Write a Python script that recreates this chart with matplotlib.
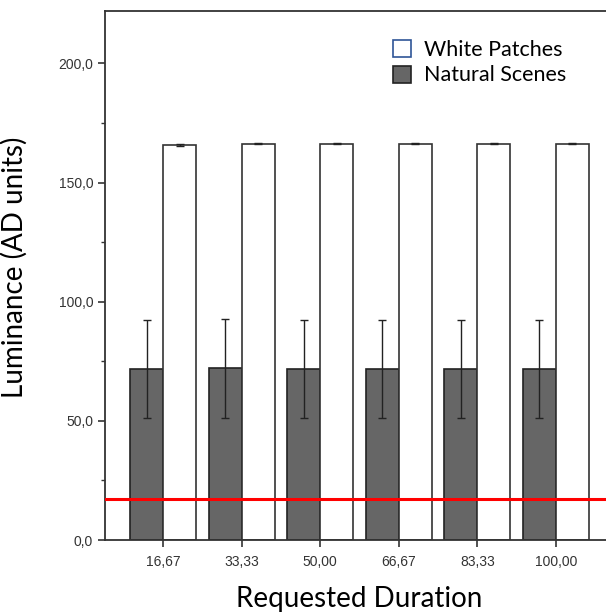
import numpy as np
import matplotlib
matplotlib.use('Agg')
import matplotlib.pyplot as plt
from matplotlib.ticker import MultipleLocator
from matplotlib.patches import Patch

durations = ['16,67', '33,33', '50,00', '66,67', '83,33', '100,00']
natural_mean = [71.8, 72.0, 71.9, 71.9, 71.8, 71.8]
natural_err = [20.6, 20.7, 20.6, 20.6, 20.6, 20.6]
white_mean = [165.8, 166.3, 166.3, 166.3, 166.3, 166.3]
white_err = [0.4, 0.3, 0.3, 0.3, 0.3, 0.3]
threshold = 17.2

fig = plt.figure(figsize=(6.06, 6.14), dpi=100)
ax = fig.add_axes([105/606, 74/614, 509/606, 529/614])

x = np.arange(len(durations))
w = 0.42
ax.bar(x - w/2, natural_mean, width=w, color='#666666', edgecolor='#222222', linewidth=1.2,
       yerr=natural_err, error_kw=dict(ecolor='#222222', elinewidth=1, capsize=3, capthick=1))
ax.bar(x + w/2, white_mean, width=w, color='white', edgecolor='#333333', linewidth=1.2,
       yerr=white_err, error_kw=dict(ecolor='#222222', elinewidth=1, capsize=3, capthick=1))
ax.axhline(threshold, color='#ff0000', linewidth=2.2, zorder=5)

ax.set_xlim(-0.74, 5.74)
ax.set_ylim(0, 222)
ax.set_xticks(x)
ax.set_xticklabels(durations, fontsize=10, color='#333333', family='Liberation Sans')
ax.yaxis.set_major_locator(MultipleLocator(50))
ax.yaxis.set_minor_locator(MultipleLocator(25))
ax.set_yticks([0, 50, 100, 150, 200])
ax.set_yticklabels(['0,0', '50,0', '100,0', '150,0', '200,0'], fontsize=10, color='#333333',
                   family='Liberation Sans')
ax.tick_params(axis='both', which='major', direction='out', length=5, width=1.2, color='#333333')
ax.tick_params(axis='x', which='major', pad=6)
ax.tick_params(axis='y', which='minor', direction='out', length=3, width=1, color='#333333')
for s in ax.spines.values():
    s.set_color('#333333')
    s.set_linewidth(1.3)

ax.set_ylabel('Luminance (AD units)', fontsize=20, family='Lato')
ax.yaxis.set_label_coords(-0.152, 0.516)
ax.set_xlabel('Requested Duration', fontsize=20, family='Lato', labelpad=12)

handles = [Patch(facecolor='white', edgecolor='#2f5597', linewidth=1.2, label='White Patches'),
           Patch(facecolor='#666666', edgecolor='#222222', linewidth=1.2, label='Natural Scenes')]
ax.legend(handles=handles, loc='upper left', bbox_to_anchor=(0.566, 0.945), frameon=False,
          prop={'family': 'Lato', 'size': 15.5}, handlelength=0.84, handleheight=0.84,
          handletextpad=0.6, labelspacing=0.25, borderpad=0, borderaxespad=0)

fig.savefig('out.png', dpi=100)
